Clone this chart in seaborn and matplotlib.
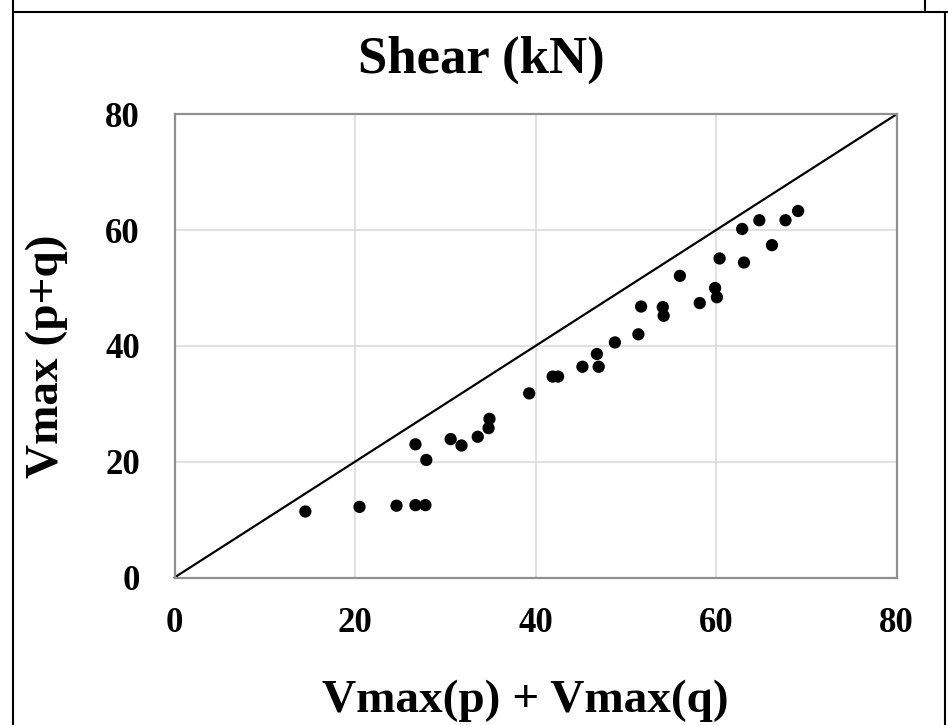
import matplotlib
matplotlib.use("Agg")
import matplotlib.pyplot as plt
from matplotlib.lines import Line2D
import seaborn as sns
import pandas as pd

# Sum of the separate maxima vs. maximum under combined loading (kN)
vmax_sum = [14.5, 20.5, 24.6, 26.7, 27.8, 26.7, 27.9, 30.6, 31.8, 33.6,
            34.8, 34.9, 39.3, 41.9, 42.5, 45.2, 46.8, 47.0, 48.8, 51.4,
            51.7, 54.1, 54.2, 56.0, 58.2, 59.9, 60.1, 60.4, 63.1, 62.9,
            64.8, 66.2, 67.7, 69.1]
vmax_comb = [11.4, 12.2, 12.4, 12.5, 12.5, 23.0, 20.3, 23.9, 22.8, 24.3,
             25.8, 27.4, 31.8, 34.7, 34.7, 36.4, 38.6, 36.4, 40.6, 42.0,
             46.8, 46.7, 45.2, 52.1, 47.4, 50.0, 48.4, 55.1, 54.4, 60.2,
             61.7, 57.4, 61.7, 63.3]

# 1:1 reference line
equality = [0, 80]
ticks = [0, 20, 40, 60, 80]

df = pd.DataFrame({"sum": vmax_sum, "comb": vmax_comb})
ref = pd.DataFrame({"x": equality, "y": equality})

sns.set_theme(style="whitegrid")
plt.rcParams["font.family"] = ["Liberation Serif", "DejaVu Serif"]
plt.rcParams["font.weight"] = "bold"

W, H = 948, 725
fig = plt.figure(figsize=(W / 100, H / 100), dpi=100)
fig.patch.set_facecolor("white")

left, right, top, bottom = 174.5, 896.5, 114.3, 577.5
ax = fig.add_axes([left / W, 1 - bottom / H, (right - left) / W, (bottom - top) / H])

sns.lineplot(data=ref, x="x", y="y", ax=ax, color="black", linewidth=1.6,
             zorder=2, clip_on=False)
sns.scatterplot(data=df, x="sum", y="comb", ax=ax, color="black", s=78,
                edgecolor="none", zorder=3)

ax.set_xlim(0, 80)
ax.set_ylim(0, 80)
ax.set_xticks(ticks)
ax.set_yticks(ticks)
ax.grid(True, color="#d9d9d9", linewidth=1.1)
ax.set_axisbelow(True)
for s in ax.spines.values():
    s.set_visible(True)
    s.set_color("#8f8f8f")
    s.set_linewidth(1.6)

ax.tick_params(axis="both", length=0, labelsize=25, colors="black")
ax.tick_params(axis="x", pad=21)
ax.tick_params(axis="y", pad=25)
for lab in ax.get_xticklabels() + ax.get_yticklabels():
    lab.set_fontweight("bold")

ax.set_xlabel("Vmax(p) + Vmax(q)", fontsize=34, fontweight="bold", color="black",
              va="baseline")
ax.xaxis.set_label_coords((525 - left) / (right - left), -(712 - bottom) / (bottom - top))
ax.set_ylabel("Vmax (p+q)", fontsize=34, fontweight="bold", color="black",
              va="center")
ax.yaxis.set_label_coords((47 - left) / (right - left), (bottom - 356) / (bottom - top))

fig.text(481 / W, 1 - 73 / H, "Shear (kN)", fontsize=38, fontweight="bold",
         ha="center", va="baseline", color="black")

# table cell borders surrounding the chart
def fig_line(xs, ys):
    fig.add_artist(Line2D([x / W for x in xs], [1 - y / H for y in ys],
                          color="black", linewidth=1.5, transform=fig.transFigure))

fig_line([13, 13], [0, H])
fig_line([13, W], [12, 12])
fig_line([925, 925], [0, 12])
fig_line([945, 945], [12, H])

fig.savefig("out.png", dpi=100)
